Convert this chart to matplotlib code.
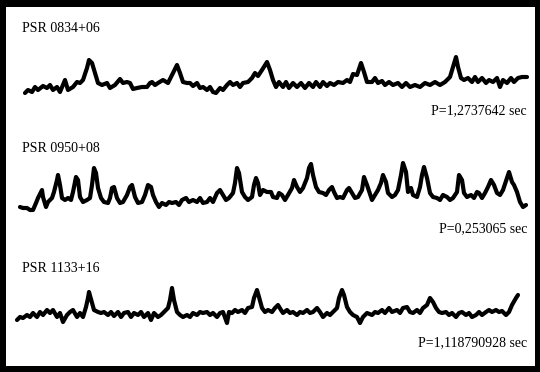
import matplotlib.pyplot as plt

# traces (x, y in picture pixels, y grows downwards)
psr0834_x = [25, 28, 32, 35, 38, 43, 47, 50, 53, 57, 60, 65, 68, 73, 77, 80, 83, 87, 89, 92,
             95, 98, 102, 107, 110, 115, 120, 123, 127, 130, 133, 137, 142, 147, 150, 152, 155, 158, 163, 168,
             172, 177, 180, 183, 187, 190, 193, 197, 200, 203, 207, 210, 213, 216, 220, 223, 227, 230, 233, 237,
             240, 243, 248, 252, 255, 258, 262, 267, 270, 273, 276, 279, 283, 286, 289, 293, 297, 301, 305, 309,
             313, 316, 320, 323, 327, 330, 334, 338, 343, 347, 350, 353, 357, 361, 364, 367, 372, 375, 378, 382,
             385, 389, 393, 398, 402, 406, 410, 415, 420, 425, 430, 435, 440, 445, 450, 453, 456, 458, 461, 464,
             468, 472, 475, 478, 482, 486, 489, 493, 497, 500, 503, 507, 511, 514, 518, 522, 527]
psr0834_y = [93, 90, 92, 87, 90, 86, 88, 85, 90, 87, 92, 80, 90, 87, 82, 83, 80, 68, 60, 63,
             73, 83, 85, 83, 88, 85, 79, 83, 82, 83, 89, 88, 87, 87, 83, 82, 85, 83, 80, 83,
             75, 65, 73, 82, 83, 83, 86, 83, 88, 87, 90, 87, 92, 93, 88, 90, 85, 82, 85, 83,
             87, 83, 82, 78, 73, 76, 70, 62, 70, 80, 87, 82, 87, 82, 88, 83, 87, 83, 88, 83,
             87, 82, 87, 82, 86, 83, 85, 82, 83, 80, 82, 74, 75, 63, 72, 82, 82, 78, 83, 81,
             85, 82, 85, 83, 87, 83, 87, 85, 87, 83, 85, 82, 85, 82, 77, 67, 57, 67, 78, 80,
             78, 82, 77, 82, 78, 83, 80, 82, 78, 87, 80, 83, 78, 82, 78, 77, 77]

psr0950_x = [20, 23, 27, 30, 33, 36, 38, 42, 43, 46, 48, 52, 54, 57, 58, 60, 62, 65, 68, 71,
             73, 76, 78, 80, 83, 87, 90, 92, 94, 96, 98, 101, 104, 108, 110, 112, 114, 117, 120, 123,
             127, 130, 132, 135, 138, 142, 145, 148, 151, 153, 156, 159, 162, 166, 169, 172, 176, 179, 182, 186,
             189, 193, 197, 200, 203, 207, 210, 213, 217, 220, 223, 226, 229, 233, 235, 237, 239, 242, 245, 248,
             252, 254, 256, 258, 260, 263, 267, 271, 273, 277, 279, 282, 285, 288, 292, 294, 297, 300, 303, 307,
             309, 311, 313, 316, 319, 323, 326, 329, 332, 334, 337, 340, 343, 347, 349, 352, 355, 358, 362, 364,
             367, 372, 375, 378, 381, 383, 386, 388, 392, 395, 398, 401, 403, 406, 408, 411, 413, 417, 420, 422,
             424, 427, 430, 433, 437, 440, 443, 447, 450, 453, 457, 459, 462, 464, 467, 471, 474, 477, 479, 482,
             485, 488, 491, 494, 497, 500, 503, 507, 509, 512, 514, 517, 520, 523, 526]
psr0950_y = [207, 208, 208, 210, 210, 203, 198, 190, 197, 207, 202, 198, 192, 180, 175, 185, 198, 200, 198, 200,
             192, 177, 180, 197, 202, 200, 198, 185, 168, 173, 188, 198, 202, 203, 198, 188, 187, 198, 203, 202,
             195, 187, 185, 197, 203, 202, 195, 185, 187, 195, 202, 207, 203, 205, 202, 203, 202, 205, 200, 198,
             202, 200, 202, 198, 203, 202, 198, 202, 193, 190, 195, 200, 198, 193, 183, 168, 173, 192, 197, 200,
             197, 185, 178, 183, 195, 190, 192, 192, 197, 198, 193, 195, 200, 195, 188, 180, 187, 192, 188, 178,
             168, 164, 175, 187, 192, 193, 195, 190, 187, 192, 198, 197, 198, 190, 188, 193, 198, 197, 190, 177,
             185, 200, 195, 190, 183, 175, 182, 193, 197, 195, 190, 175, 163, 172, 192, 188, 195, 197, 187, 175,
             167, 178, 193, 197, 198, 200, 195, 197, 200, 198, 192, 175, 180, 193, 197, 195, 198, 192, 193, 198,
             193, 187, 180, 185, 193, 195, 190, 178, 172, 182, 185, 192, 202, 207, 205]

psr1133_x = [17, 20, 23, 27, 30, 33, 37, 40, 43, 47, 50, 53, 57, 60, 63, 67, 70, 73, 77, 80,
             83, 86, 88, 89, 92, 94, 98, 101, 104, 108, 111, 114, 118, 121, 124, 128, 131, 134, 138, 141,
             144, 148, 151, 154, 158, 161, 164, 168, 170, 172, 174, 177, 180, 183, 187, 190, 193, 197, 200, 203,
             207, 210, 213, 217, 220, 223, 227, 229, 232, 235, 238, 242, 245, 248, 252, 254, 257, 259, 262, 265,
             268, 272, 275, 278, 281, 283, 287, 290, 293, 297, 300, 303, 307, 310, 313, 317, 320, 323, 327, 330,
             333, 337, 339, 342, 344, 347, 350, 353, 357, 360, 363, 367, 372, 375, 378, 382, 385, 389, 392, 397,
             400, 403, 407, 410, 413, 417, 420, 423, 427, 430, 433, 436, 439, 442, 446, 449, 452, 456, 459, 462,
             466, 469, 472, 476, 479, 482, 486, 489, 492, 496, 499, 502, 506, 509, 512, 516, 518]
psr1133_y = [320, 317, 318, 315, 317, 313, 317, 312, 315, 310, 313, 310, 317, 313, 322, 315, 312, 310, 317, 313,
             317, 307, 298, 292, 303, 310, 312, 313, 312, 315, 312, 316, 312, 317, 313, 312, 317, 313, 315, 312,
             317, 313, 320, 313, 317, 315, 312, 308, 300, 288, 300, 312, 315, 317, 315, 317, 313, 315, 312, 313,
             312, 315, 313, 317, 313, 312, 323, 312, 313, 310, 312, 310, 313, 308, 307, 298, 290, 297, 308, 312,
             310, 312, 308, 305, 310, 313, 310, 313, 312, 315, 312, 313, 310, 313, 312, 308, 312, 317, 313, 315,
             312, 308, 298, 290, 295, 307, 312, 315, 317, 323, 317, 313, 315, 312, 313, 310, 313, 308, 312, 310,
             313, 308, 307, 312, 313, 310, 313, 308, 305, 298, 302, 308, 312, 313, 312, 315, 313, 317, 313, 312,
             315, 313, 317, 315, 312, 315, 312, 310, 312, 310, 312, 311, 315, 312, 305, 298, 295]

names = ['PSR 0834+06', 'PSR 0950+08', 'PSR 1133+16']
periods = ['P=1,2737642 sec', 'P=0,253065 sec', 'P=1,118790928 sec']
name_y = [28, 148, 269]
period_y = [111, 229, 343]

fig = plt.figure(figsize=(5.4, 3.72), dpi=100, facecolor='black')
ax = fig.add_axes([6 / 540, 6 / 372, 529 / 540, 359 / 372])
ax.set_facecolor('white')
ax.set_xlim(6, 535)
ax.set_ylim(366, 7)
ax.set_xticks([])
ax.set_yticks([])
for s in ax.spines.values():
    s.set_visible(False)

for xs, ys in [(psr0834_x, psr0834_y), (psr0950_x, psr0950_y), (psr1133_x, psr1133_y)]:
    ax.plot(xs, ys, color='black', lw=3.0, solid_joinstyle='round', solid_capstyle='round')

for name, ny, per, py in zip(names, name_y, periods, period_y):
    ax.text(22, ny, name, fontsize=10, family='Liberation Serif', ha='left', va='center')
    ax.text(527, py, per, fontsize=10, family='Liberation Serif', ha='right', va='center')

fig.savefig('out.png', dpi=100, facecolor='black')
